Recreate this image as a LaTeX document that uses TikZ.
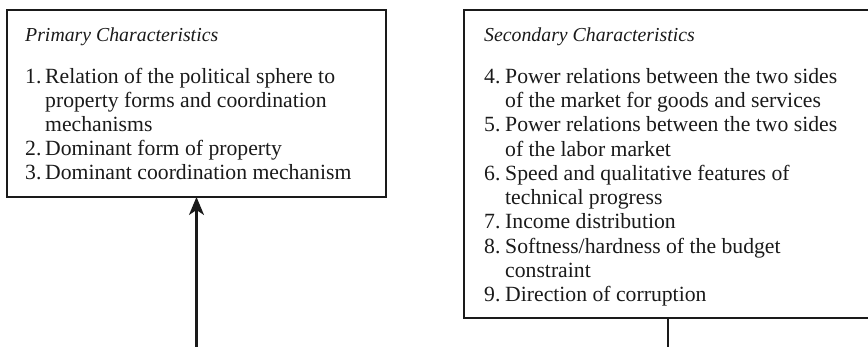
\documentclass[tikz,border=0pt]{standalone}
\usepackage{fontspec}
\setmainfont{Liberation Serif}
\usetikzlibrary{arrows.meta}
\definecolor{ink}{HTML}{1A1A1A}
\begin{document}
\begin{tikzpicture}[x=1pt,y=-1pt,
  boxstyle/.style={draw=ink,line width=2.6pt,rectangle,inner sep=0pt,outer sep=0pt,anchor=north west},
  titlestyle/.style={anchor=base west,inner sep=0pt,text=ink,font=\fontsize{19.8}{24}\selectfont\itshape},
  itemstyle/.style={anchor=base west,inner sep=0pt,text=ink,font=\fontsize{21.7}{24}\selectfont},
  linkstyle/.style={draw=ink,line width=2.2pt}]
\clip (0,0) rectangle (868,347);
% boxes
\node[boxstyle,minimum width=379pt,minimum height=187pt] (pbox) at (7,10) {};
\node[boxstyle,minimum width=420pt,minimum height=308pt] (sbox) at (464,10) {};
% titles
\node[titlestyle] (ptitle) at (25,42) {Primary Characteristics};
\node[titlestyle] (stitle) at (484,42) {Secondary Characteristics};
% primary list
\foreach \n/\t [count=\k] in {1./Relation of the political sphere to,
  /property forms and coordination,
  /mechanisms,
  2./Dominant form of property,
  3./Dominant coordination mechanism}{
  \node[itemstyle] (pn\k) at (25,{84+24*(\k-1)}) {\n};
  \node[itemstyle] (pt\k) at (45,{84+24*(\k-1)}) {\t};
}
% secondary list
\foreach \n/\t [count=\k] in {4./Power relations between the two sides,
  /of the market for goods and services,
  5./Power relations between the two sides,
  /of the labor market,
  6./Speed and qualitative features of,
  /technical progress,
  7./Income distribution,
  8./{Softness/hardness of the budget},
  /constraint,
  9./Direction of corruption}{
  \node[itemstyle] (sn\k) at (484,{83.5+24.25*(\k-1)}) {\n};
  \node[itemstyle] (st\k) at (505,{83.5+24.25*(\k-1)}) {\t};
}
% connectors
\coordinate (pbot) at (196.5,347);
\coordinate (sbot) at (668,347);
\draw[linkstyle,-{Stealth[length=18pt,width=15pt,inset=5pt]}] (pbot) -- (pbox.south);
\draw[linkstyle] (sbox.south -| sbot) -- (sbot);
\end{tikzpicture}
\end{document}
